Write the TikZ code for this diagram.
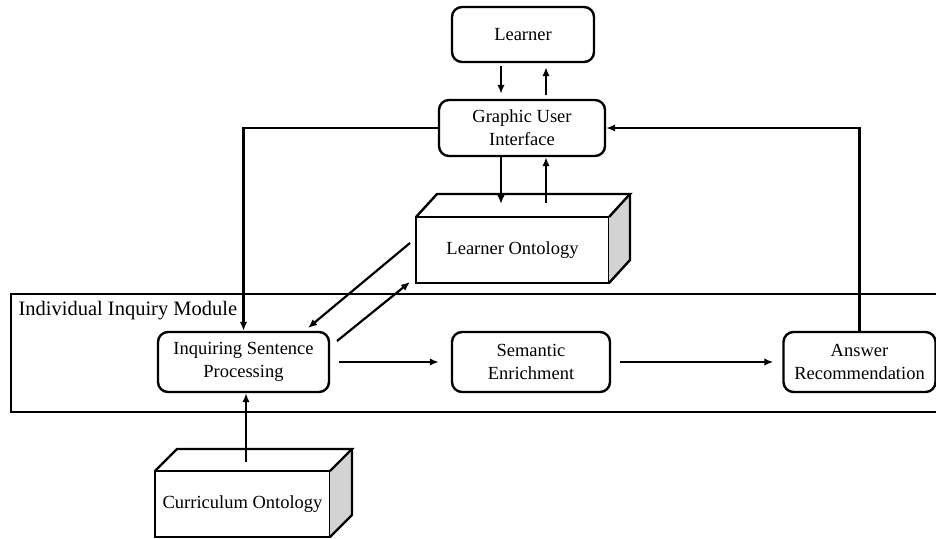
\documentclass[tikz,border=0pt]{standalone}
\usepackage{fontspec}
\setmainfont{Liberation Serif}
\usetikzlibrary{arrows.meta, positioning, calc}
\definecolor{SideGray}{HTML}{D3D3D3}

\begin{document}
\begin{tikzpicture}[x=1pt, y=-1pt,
    font=\fontsize{18.5}{23}\selectfont,
    block/.style={draw, line width=2.4pt, rounded corners=10pt, align=center, inner sep=0pt},
    face/.style={draw, line width=2.4pt, align=center, inner sep=0pt, outer sep=0pt},
    flow/.style={-{Latex[length=9pt,width=7.5pt]}, line width=2.2pt}]
    \useasboundingbox (0,0) rectangle (936,538);

    % Module frame
    \draw[line width=1.3pt] (940,294) -- (11,294) -- (11,412) -- (940,412);
    \node[anchor=west, font=\fontsize{20.5}{24}\selectfont] (modlabel) at (15,311) {Individual Inquiry Module};

    % Top boxes
    \node[block, minimum width=142pt, minimum height=55pt] (learner) at (523,34.5) {Learner};
    \node[block, minimum width=166pt, minimum height=56pt] (gui) at (522,128) {Graphic User\\Interface};

    % Learner ontology (cuboid)
    \node[face, minimum width=193pt, minimum height=66pt] (lo) at (512.5,250) {Learner Ontology};
    \fill[SideGray] (lo.north east) -- ++(21,-23) -- ++(0,66) -- (lo.south east) -- cycle;
    \draw[line width=2.4pt] (lo.north west) -- ++(21,-23) -- ++(193,0) -- (lo.north east);
    \draw[line width=2.4pt] ($(lo.north east)+(21,-23)$) -- ++(0,66) -- (lo.south east);

    % Module boxes
    \node[block, minimum width=171pt, minimum height=60pt] (isp) at (243.5,362) {Inquiring Sentence\\Processing};
    \node[block, minimum width=158pt, minimum height=60pt] (se) at (531,362) {Semantic\\Enrichment};
    \node[block, minimum width=152pt, minimum height=60pt] (ar) at (859.5,362) {Answer\\Recommendation};

    % Curriculum ontology (cuboid)
    \node[face, minimum width=175pt, minimum height=66pt] (co) at (242.5,504) {Curriculum Ontology};
    \fill[SideGray] (co.north east) -- ++(22,-22) -- ++(0,66) -- (co.south east) -- cycle;
    \draw[line width=2.4pt] (co.north west) -- ++(22,-22) -- ++(175,0) -- (co.north east);
    \draw[line width=2.4pt] ($(co.north east)+(22,-22)$) -- ++(0,66) -- (co.south east);

    % Connector ends
    \coordinate (down) at (501,0);
    \coordinate (up) at (546,0);
    \coordinate (lo-in) at (501,204);
    \coordinate (lo-out) at (546,203);
    \coordinate (lo-a) at (410,243);
    \coordinate (isp-a) at (308,328);
    \coordinate (isp-b) at (337,341);
    \coordinate (lo-b) at (410,282);
    \coordinate (co-out) at (246,462);

    % Arrows
    \draw[flow, shorten <=3pt, shorten >=5pt] (learner.south -| down) -- (gui.north -| down);
    \draw[flow, shorten <=4pt, shorten >=4pt] (gui.north -| up) -- (learner.south -| up);
    \draw[flow] (gui.south -| down) -- (lo-in);
    \draw[flow] (lo-out) -- (gui.south -| up);
    \draw[flow] (gui.west) -| (isp.north);
    \draw[flow] (ar.north) |- (gui.east);
    \draw[flow] (lo-a) -- (isp-a);
    \draw[flow] (isp-b) -- (lo-b);
    \draw[flow, shorten <=9pt, shorten >=12pt] (isp) -- (se);
    \draw[flow, shorten <=9pt, shorten >=9pt] (se) -- (ar);
    \draw[flow] (co-out) -- (isp.south -| co-out);

\end{tikzpicture}
\end{document}
